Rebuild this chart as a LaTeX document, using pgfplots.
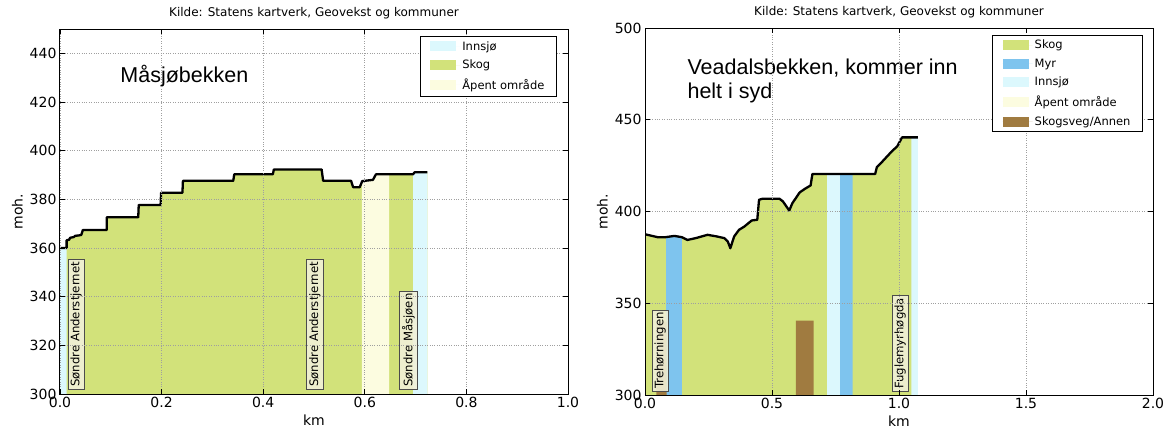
\documentclass[border=0pt]{standalone}
\usepackage{pgfplots}
\pgfplotsset{compat=1.18}
\usepackage{pgfplotstable}
\usepackage{fontspec}
\setmainfont{DejaVu Sans}
\newfontfamily\arialf{Liberation Sans}
\definecolor{skog}{HTML}{D2E27A}
\definecolor{myr}{HTML}{7EC4EE}
\definecolor{innsjo}{HTML}{DCF8FD}
\definecolor{apent}{HTML}{FCFCE0}
\definecolor{veg}{HTML}{A07B40}
\definecolor{lblfill}{HTML}{F0F0D8}

\pgfplotstableread{
x y
0 360
0.013 360
0.013 363.2
0.018 363.4
0.020 364.2
0.027 364.5
0.030 365.0
0.038 365.2
0.042 365.4
0.045 367.4
0.092 367.4
0.092 372.6
0.154 372.6
0.155 377.7
0.198 377.7
0.199 382.7
0.241 382.7
0.242 387.6
0.341 387.6
0.343 390.3
0.419 390.3
0.421 392.3
0.515 392.3
0.518 387.6
0.573 387.6
0.577 385.0
0.590 385.0
0.595 387.5
0.616 388.0
0.622 390.3
0.695 390.3
0.698 391.1
0.723 391.1
}\profA

\pgfplotstableread{
x y
0 387.6
0.05 386.0
0.08 386.0
0.116 386.7
0.145 386.0
0.167 384.5
0.203 385.6
0.246 387.3
0.283 386.4
0.312 385.5
0.326 383.6
0.336 380.0
0.351 386.4
0.370 390.0
0.391 391.8
0.420 395.1
0.442 395.5
0.449 406.4
0.464 407.0
0.529 407.0
0.543 405.5
0.568 400.5
0.580 404.5
0.609 410.4
0.630 412.4
0.652 414.2
0.659 420.4
0.906 420.4
0.913 424.2
0.935 427.3
0.959 430.9
0.978 433.6
0.993 435.5
1.012 440.4
1.074 440.4
}\profB

\tikzset{
  lbl/.style={rotate=90, anchor=north west, draw=gray!60!black, fill=lblfill, fill opacity=0.9, text opacity=1,
    font=\fontsize{11.7}{14}\selectfont, inner sep=2.5pt, line width=0.7pt},
  big/.style={anchor=base west, font=\arialf\fontsize{21.5}{25}\selectfont, inner sep=0pt},
}

\pgfplotsset{
  mystyle/.style={
    scale only axis,
    width=508pt,
    axis on top,
    axis line style={line width=1pt},
    tick style={black, line width=0.7pt},
    major tick length=5pt,
    tick align=inside,
    grid=major,
    major grid style={dotted, gray!75, line width=0.7pt},
    tick label style={font=\fontsize{14}{16}\selectfont},
    label style={font=\fontsize{14}{16}\selectfont},
    /pgf/number format/assume math mode=true,
    xticklabel style={/pgf/number format/.cd, fixed, fixed zerofill, precision=1},
    yticklabel style={/pgf/number format/.cd, fixed, precision=0},
    title style={font=\fontsize{12}{14}\selectfont, at={(0.5,1)}, anchor=south, yshift=4pt, inner sep=0pt},
    xlabel={km}, ylabel={moh.},
    title={Kilde: Statens kartverk, Geovekst og kommuner},
    legend cell align=left,
    legend style={anchor=north east, draw=black, line width=0.8pt, fill=white,
      font=\fontsize{11.5}{13}\selectfont, inner xsep=10pt, inner ysep=3pt, row sep=4.5pt},
    legend image code/.code={\path (0pt,0pt) -- (30pt,0pt);\fill[##1] (0pt,-5pt) rectangle (26pt,5pt);},
  }
}

\begin{document}
\begin{tikzpicture}[x=1pt,y=1pt]
\useasboundingbox (0,0) rectangle (1168,432);

% ---------------- left ----------------
\begin{axis}[mystyle,
  at={(60pt,38pt)}, anchor=south west, height=365pt,
  xmin=0, xmax=1, ymin=300, ymax=450,
  xtick={0,0.2,0.4,0.6,0.8,1.0}, ytick={300,320,340,360,380,400,420,440},
  legend style={at={(rel axis cs:0.978,0.981)}},
]
\addplot[fill=skog, draw=none, forget plot] table[x=x,y=y]{\profA} \closedcycle;
\addplot[fill=innsjo, draw=none, forget plot] coordinates {(0,300)(0,360)(0.013,360)(0.013,300)} \closedcycle;
\addplot[fill=apent, draw=none, forget plot] coordinates {(0.594,300)(0.594,387.0)(0.595,387.5)(0.616,388.0)(0.622,390.3)(0.648,390.3)(0.648,300)} \closedcycle;
\addplot[fill=innsjo, draw=none, forget plot] coordinates {(0.695,300)(0.695,390.3)(0.698,391.1)(0.723,391.1)(0.723,300)} \closedcycle;
\addplot[black, line width=2.3pt, line join=round, forget plot] table[x=x,y=y]{\profA};
\node[lbl] at (axis cs:0.0148,301.8) {Søndre Anderstjernet};
\node[lbl] at (axis cs:0.485,301.8) {Søndre Anderstjernet};
\node[lbl] at (axis cs:0.668,301.8) {Søndre Måsjøen};
\node[big] at (axis cs:0.1185,428) {Måsjøbekken};
\addlegendimage{fill=innsjo, draw=none}\addlegendentry{Innsjø}
\addlegendimage{fill=skog, draw=none}\addlegendentry{Skog}
\addlegendimage{fill=apent, draw=none}\addlegendentry{Åpent område}
\end{axis}

% ---------------- right ----------------
\begin{axis}[mystyle,
  at={(645pt,37pt)}, anchor=south west, height=367pt,
  xmin=0, xmax=2, ymin=300, ymax=500,
  xtick={0,0.5,1.0,1.5,2.0}, ytick={300,350,400,450,500},
  legend style={at={(rel axis cs:0.980,0.982)}},
]
\addplot[fill=skog, draw=none, forget plot] table[x=x,y=y]{\profB} \closedcycle;
\addplot[fill=myr, draw=none, forget plot] coordinates {(0.083,300)(0.083,386.1)(0.116,386.7)(0.145,386.0)(0.145,300)} \closedcycle;
\addplot[fill=innsjo, draw=none, forget plot] coordinates {(0.717,300)(0.717,420.4)(0.768,420.4)(0.768,300)} \closedcycle;
\addplot[fill=myr, draw=none, forget plot] coordinates {(0.768,300)(0.768,420.4)(0.817,420.4)(0.817,300)} \closedcycle;
\addplot[fill=innsjo, draw=none, forget plot] coordinates {(1.049,300)(1.049,440.4)(1.074,440.4)(1.074,300)} \closedcycle;
\addplot[fill=veg, draw=none, forget plot] coordinates {(0.594,300)(0.594,340.5)(0.664,340.5)(0.664,300)} \closedcycle;
\addplot[fill=veg, draw=none, forget plot] coordinates {(0.045,300)(0.045,340)(0.085,340)(0.085,300)} \closedcycle;
\addplot[black, line width=2.3pt, line join=round, forget plot] table[x=x,y=y]{\profB};
\node[lbl] at (axis cs:0.026,301.8) {Trehørningen};
\node[lbl] at (axis cs:0.971,301.8) {Fuglemyrhøgda};
\node[big] at (axis cs:0.1667,474.5) {Veadalsbekken, kommer inn};
\node[big] at (axis cs:0.1667,461.8) {helt i syd};
\addlegendimage{fill=skog, draw=none}\addlegendentry{Skog}
\addlegendimage{fill=myr, draw=none}\addlegendentry{Myr}
\addlegendimage{fill=innsjo, draw=none}\addlegendentry{Innsjø}
\addlegendimage{fill=apent, draw=none}\addlegendentry{Åpent område}
\addlegendimage{fill=veg, draw=none}\addlegendentry{Skogsveg/Annen}
\end{axis}
\end{tikzpicture}
\end{document}
